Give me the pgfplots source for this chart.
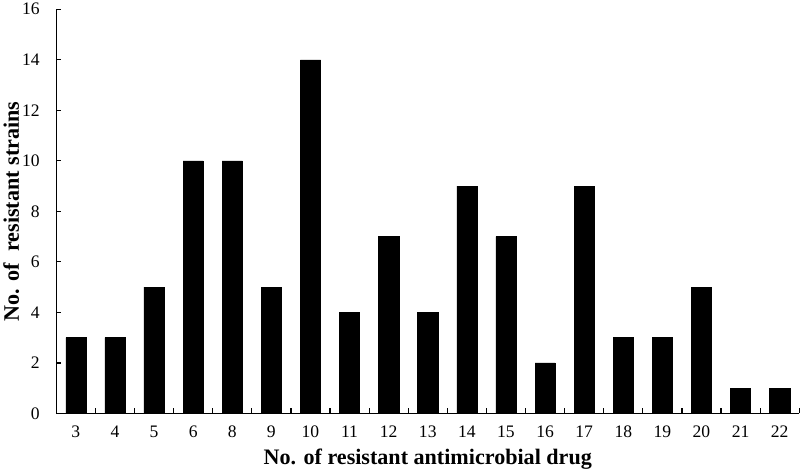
\documentclass[border=0pt]{standalone}
\usepackage{pgfplots}
\pgfplotsset{compat=1.18}
\usepackage{fontspec}
\setmainfont{Liberation Serif}
\begin{document}
\begin{tikzpicture}[x=1bp,y=1bp]
\begin{axis}[
  scale only axis,
  width=737bp, height=401bp,
  xmin=-0.5, xmax=18.5, ymin=0, ymax=16,
  axis x line*=bottom, axis y line*=left,
  axis line style={line width=1.5pt,-},
  ybar, bar width=20bp,
  xtick=data,
  xticklabels={3,4,5,6,8,9,10,11,12,13,14,15,16,17,18,19,20,21,22},
  ytick={0,2,...,16},
  minor xtick={0.5,1.5,...,18.5},
  major x tick style={draw=none},
  tick align=inside,
  tick style={black, line width=1.2pt},
  major tick length=5bp, minor tick length=5bp,
  /pgf/number format/assume math mode=true,
  ticklabel style={font=\fontsize{17.5}{19}\selectfont},
  xticklabel style={yshift=-9bp},
  yticklabel style={xshift=-13bp},
  xlabel={\bfseries No. of resistant antimicrobial drug},
  ylabel={\bfseries No. of \ resistant strains},
  label style={font=\fontsize{22}{26}\selectfont},
  xlabel style={yshift=-4bp},
  ylabel style={yshift=-4bp},
]
\addplot[fill=black, draw=black] coordinates {
(0,3) (1,3) (2,5) (3,10) (4,10) (5,5) (6,14) (7,4) (8,7) (9,4)
(10,9) (11,7) (12,2) (13,9) (14,3) (15,3) (16,5) (17,1) (18,1)};
\end{axis}
\end{tikzpicture}
\end{document}
